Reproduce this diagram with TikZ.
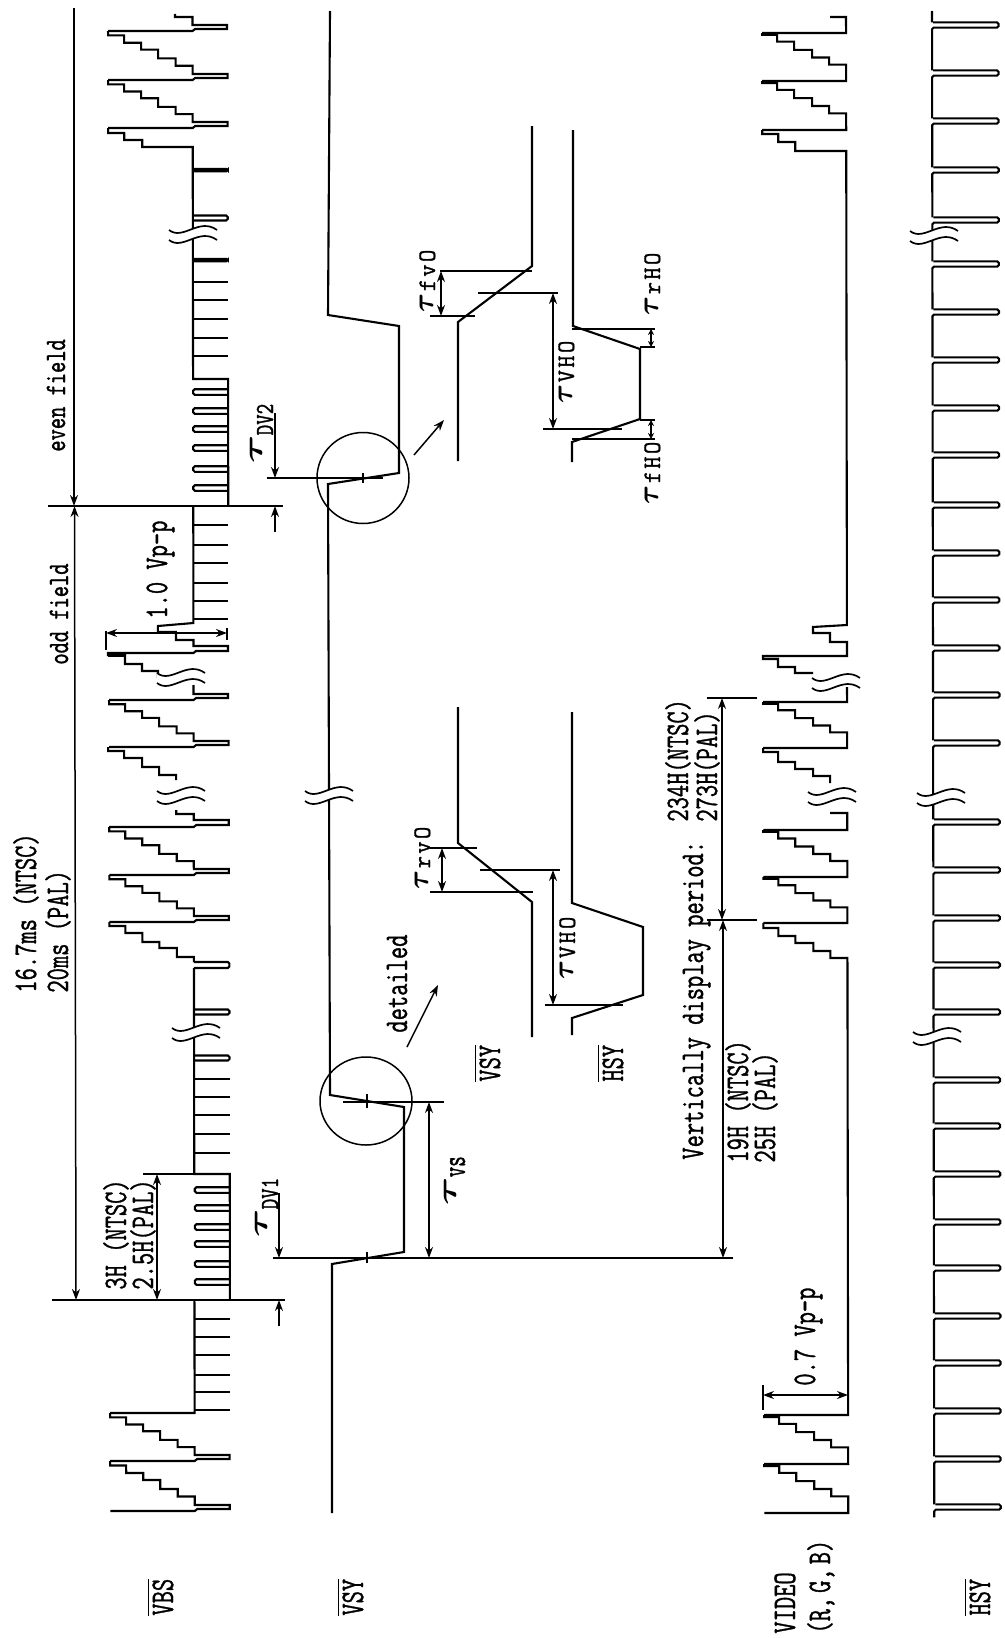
\documentclass[tikz,border=0pt]{standalone}
\usepackage{fontspec}
\newfontfamily\mnfont[FakeBold=1.3]{Latin Modern Mono}
\usetikzlibrary{arrows.meta}
\tikzset{
  sig/.style={line width=1.05pt,line join=miter,line cap=butt},
  dimln/.style={line width=0.75pt},
  dima/.style={line width=0.75pt,{Stealth[length=5.5pt,width=4pt]}-{Stealth[length=5.5pt,width=4pt]}},
  dimb/.style={line width=0.75pt,{Stealth[length=3pt,width=3pt]}-{Stealth[length=3pt,width=3pt]}},
  dimr/.style={line width=0.75pt,-{Stealth[length=5.5pt,width=4pt]}},
  lab/.style={rotate=90,anchor=base west,inner sep=0pt}
}
\newcommand\tx[1]{\scalebox{1}[1.38]{\mnfont\fontsize{11.9}{14}\selectfont #1}}
\newcommand\txs[1]{\scalebox{1}[1.38]{\mnfont\fontsize{10.7}{14}\selectfont #1}}
\newcommand\txo[1]{\scalebox{1}[1.38]{$\overline{\hbox{\mnfont\fontsize{11.9}{14}\selectfont #1}}$}}
\newcommand\taulab[3][-5.5pt]{\scalebox{1.8}[1.15]{\fontsize{12}{12}\selectfont\boldmath$\tau$}\raisebox{#1}{\scalebox{1}[#3]{\mnfont\fontsize{10}{12}\selectfont #2}}}
\newcommand\smt[3]{\scalebox{1}[1.05]{\fontsize{14.4}{14}\selectfont\boldmath$\tau$}\raisebox{-1pt}{\scalebox{1}[1.05]{\mnfont\fontsize{11.9}{14}\selectfont\kern1.2pt #1\kern1.2pt #2\kern1.2pt #3}}}
% VBS sawtooth period
\newcommand\sawb[2]{\draw[sig] (108,#1)--(192.5,#1)--(195,{#1-2})--(227.5,{#1-2})--(227.5,{#1-6})--(192.5,{#1-6})
  --(192.5,{#1-.29*#2})--(175.5,{#1-.29*#2})--(175.5,{#1-.44*#2})--(158,{#1-.44*#2})--(158,{#1-.62*#2})
  --(141,{#1-.62*#2})--(141,{#1-.76*#2})--(124,{#1-.76*#2})--(124,{#1-.91*#2})--(108,{#1-.91*#2})--(108,{#1-#2});}
% VIDEO sawtooth period
\newcommand\sawv[2]{\draw[sig] (762,#1)--(846,#1)--(846,{#1-.34*#2})--(829,{#1-.34*#2})--(829,{#1-.49*#2})
  --(812,{#1-.49*#2})--(812,{#1-.65*#2})--(794,{#1-.65*#2})--(794,{#1-.82*#2})--(777,{#1-.82*#2})
  --(777,{#1-.96*#2})--(762,{#1-.96*#2})--(762,{#1-#2});}
% narrow pulse between two levels
\newcommand\pulse[4]{\draw[sig,rounded corners=0.8pt] (#1,{#3+#4})--(#2,{#3+#4})--(#2,{#3-#4})--(#1,{#3-#4});}
% break mark
\newcommand\brk[2]{\fill[white] ({#1-24},{#2-5}) .. controls ({#1-10},{#2+6}) and ({#1+6},{#2-18}) .. ({#1+24},{#2-5})
   -- ({#1+24},{#2+5}) .. controls ({#1+6},{#2-8}) and ({#1-10},{#2+16}) .. ({#1-24},{#2+5}) -- cycle;
  \draw[sig,line width=0.85pt] ({#1-24},{#2-5}) .. controls ({#1-10},{#2+6}) and ({#1+6},{#2-18}) .. ({#1+24},{#2-5});
  \draw[sig,line width=0.85pt] ({#1-24},{#2+5}) .. controls ({#1-10},{#2+16}) and ({#1+6},{#2-8}) .. ({#1+24},{#2+5});}
\begin{document}
\begin{tikzpicture}[x=0.5pt,y=-0.5pt]
\useasboundingbox (0,0) rectangle (1005,1638);
\fill[white] (0,0) rectangle (1005,1638);
\begin{scope}[cm={1,0,-0.0015,1,(0,0)}]
% ---------- VBS ----------
\sawb{1511}{50}\sawb{1461}{48}
\draw[sig] (108,1413)--(192.5,1413)--(192.5,1300);
\foreach \t in {1410,1392,1375,1355,1337,1319} {\draw[sig] (192.5,\t)--(228,\t);}
\draw[sig] (228,1300)--(228,1174)--(192.5,1174)--(192.5,968);
\foreach \t in {1282,1264,1244,1227,1208,1190} {\pulse{228}{193}{\t}{2.8}}
\foreach \t in {1153,1134,1115,1097,1079} {\draw[sig] (192.5,\t)--(228,\t);}
\pulse{192.5}{228}{1058}{2.5}\pulse{192.5}{228}{1012}{2.5}\pulse{192.5}{228}{965}{3}
\draw[sig] (192.5,962)--(192.5,957)--(175.5,957)--(175.5,948)--(158,948)--(158,942)--(141,942)--(141,933)--(124,933)--(124,926)--(108,926)--(108,922);
\sawb{922}{47}\sawb{875}{48}
\draw[sig] (108,827)--(192.5,827)--(195,825)--(227.5,825)--(227.5,820)--(192.5,820)--(192.5,814)--(175,814)--(175,810);
\draw[sig] (175,780)--(175,775)--(158,775)--(158,767)--(141,767)--(141,758)--(123,758)--(123,751)--(107,751)--(107,747);
\sawb{747}{47}
\draw[sig] (108,700)--(192.5,700)--(195,698)--(227,698)--(227,694)--(192.5,694)--(192.5,685);
\draw[sig] (157,678)--(157,671)--(141,671)--(141,664)--(124,664)--(124,655)--(107,655)--(107,653)--(192.5,653)--(195,651)--(227,651)--(227,646)--(192.5,646)--(192.5,640)--(175,640)--(175,632)--(157,632)--(157,626)--(192.5,623)--(192.5,506);
\draw[line width=2.4pt] (107,654.5)--(124,654.5);
\foreach \t in {619,601,583,563,545,525} {\draw[sig] (192.5,\t)--(227.5,\t);}
\draw[sig] (227.5,506)--(227.5,379)--(192.5,379)--(192.5,147)--(142,147)--(142,140)--(124,140)--(124,133)--(108,133)--(108,128);
\foreach \t in {488,469,448,429,411,392} {\pulse{227.5}{192.5}{\t}{2.8}}
\foreach \t in {356,338,319,300,282} {\draw[sig] (192.5,\t)--(227.5,\t);}
\pulse{192.5}{227.5}{260}{1.2}\pulse{192.5}{227.5}{218}{2.5}\pulse{192.5}{227.5}{170}{1.2}
\sawb{128}{48}\sawb{80}{49}
\draw[sig] (108,31)--(192.5,31)--(195,29)--(227,29)--(227,25)--(192.5,25)--(192.5,17)--(175,17)--(175,14);
% ---------- VIDEO ----------
\sawv{1513}{49}\sawv{1464}{49}
\draw[sig] (762,1415)--(846,1415)--(846,958)--(829,958)--(829,951)--(812,951)--(812,943)--(794,943)--(794,936)--(777,936)--(777,928)--(762,928)--(762,923);
\sawv{923}{46}\sawv{877}{47}
\draw[sig] (762,830)--(846,830)--(846,813)--(829,813);
\draw[sig] (829,783)--(829,776)--(812,776)--(812,769)--(794,769)--(794,762)--(777,762)--(777,752)--(762,752)--(762,748);
\sawv{748}{46}
\draw[sig] (762,702)--(846,702)--(846,687);
\draw[sig] (812,673)--(794,673)--(794,667)--(777,667)--(777,659)--(762,659)--(762,656)--(846,656)--(846,642)--(829,642)--(829,633)--(812,633)--(812,627)--(846,625)--(846,151)--(795,151)--(795,142)--(778,142)--(778,134)--(762,134)--(762,130);
\sawv{130}{49}\sawv{81}{48}
\draw[sig] (762,33)--(846,33)--(846,17)--(830,17);
% ---------- HSY ----------
\foreach \t [remember=\t as \p (initially 1520)] in {1507,1459,1411,1363,1316,1268,1222,1174,1126,1080,1012,965,918,870,822,743,695,648,600,553,505,455,408,360,312,264,220,170,121,73,25}
  {\draw[sig,rounded corners=0.8pt] (932,{\p-2.6})--(932,{\t+2.6})--(998.5,{\t+2.6})--(998.5,{\t-2.6})--(933,{\t-2.6});}
\draw[sig] (932,22.4)--(932,11);
\end{scope}
% ---------- VSY ----------
\draw[sig] (332,1513)--(332,1264)--(404,1252)--(404,1107)--(330,1095)--(328,484)--(399,473)--(399,326)--(328,315)--(330,11);
% ---------- breaks ----------
\brk{193}{235}\brk{196}{1033}\brk{181}{678}\brk{181}{796}\brk{329}{796}
\brk{836}{683}\brk{832}{797}\brk{934}{236}\brk{941}{798}\brk{937}{1037}
% ---------- dimension lines ----------
\draw[dimln,line width=0.9pt] (48,506)--(283,506);
\draw[dimln,line width=0.9pt] (52,1300)--(285,1300);
\draw[dimr] (74,8)--(74,506);
\draw[dima] (74.5,506)--(76,1300);
\draw[dimln] (143,1174)--(228,1174);
\draw[dima] (157,1174)--(157,1300);
\draw[dimln] (106,631)--(106,650) (227,628)--(227,640);
\draw[dima] (106,633)--(227,633);
\draw[dimln] (273,1258)--(733,1258);
\draw[dimr] (279,1193)--(279,1258);
\draw[dimr] (279,1326)--(279,1300);
\draw[dimln] (367,1252)--(367,1263);
\draw[dimln] (343,1102)--(444,1102) (367,1094)--(367,1108);
\draw[dima] (429,1102)--(429,1258);
\draw[dimln] (366,1101) ellipse [x radius=46,y radius=44];
\draw[dimln] (363,478) ellipse [x radius=46,y radius=45.5];
\draw[dimln] (267,478)--(383,478) (363,473)--(363,483);
\draw[dimr] (275,413)--(275,478);
\draw[dimr] (275,532)--(275,506);
\draw[dimr] (407,1047)--(438,985);
\draw[dimr] (414,455)--(444,420);
\draw[dima] (723,1258)--(723,920);
\draw[dimln] (707,920)--(757,920) (707,698)--(757,698);
\draw[dima] (722,698)--(722,920);
\draw[dimln] (763,1385)--(763,1410);
\draw[dima] (763,1395)--(848,1395);
% ---------- insets ----------
\draw[sig] (458,707)--(458,843)--(532,902)--(532,1037);
\draw[sig] (572,712)--(572,903)--(643,927)--(643,995)--(572,1018)--(572,1035);
\draw[dimln] (430,848)--(477,848) (430,892)--(533,892) (480,870)--(560,870) (545,1005)--(623,1005);
\draw[dima] (442,848)--(442,892);
\draw[dima] (553,870)--(553,1005);
\draw[sig] (458,461)--(458,322)--(532,266)--(532,126);
\draw[sig] (573,130)--(573,326)--(640,349)--(640,419)--(572,442)--(572,462);
\draw[dimln] (430,316)--(475,316) (440,271)--(532,271) (478,293)--(558,293) (543,429)--(622,429);
\draw[dima] (441,271)--(441,316);
\draw[dima] (553,293)--(553,429);
\draw[dimln] (572,329)--(655,329) (640,347)--(655,347) (640,420)--(655,420) (572,439)--(655,439);
\draw[dimb] (651,329)--(651,347);
\draw[dimb] (651,420)--(651,439);
% ---------- labels ----------
\node[lab] (l16) at (36,993) {\tx{16.7ms (NTSC)}};
\node[lab] (l20) at (68,993) {\tx{20ms (PAL)}};
\node[lab] (leven) at (65,452) {\txs{even field}};
\node[lab] (lodd) at (68,665) {\txs{odd field}};
\node[lab] (l3h) at (126,1290) {\tx{3H (NTSC)}};
\node[lab] (l25h) at (153,1290) {\tx{2.5H(PAL)}};
\node[lab] (l10) at (167,619) {\tx{1.0 Vp-p}};
\node[lab] (ldet) at (407,1033) {\tx{detailed}};
\node[lab] (lvbs) at (173,1616) {\txo{VBS}};
\node[lab] (lvsy) at (363,1616) {\txo{VSY}};
\node[lab] (lvsy2) at (500,1082) {\txo{VSY}};
\node[lab] (lhsy2) at (623,1082) {\txo{HSY}};
\node[lab] (lhsy) at (990,1616) {\txo{HSY}};
\node[lab] (lvid) at (795,1634) {\tx{VIDEO}};
\node[lab] (lrgb) at (830,1634) {\tx{(R,\kern2pt G,\kern2pt B)}};
\node[lab] (lvert) at (703,1160) {\tx{Vertically display period:}};
\node[lab] (l234) at (688,822) {\tx{234H(NTSC)}};
\node[lab] (l273) at (717,822) {\tx{273H(PAL)}};
\node[lab] (l19) at (748,1163) {\tx{19H (NTSC)}};
\node[lab] (l25) at (775,1163) {\tx{25H (PAL)}};
\node[lab] (l07) at (815,1386) {\tx{0.7 Vp-p}};
\node[lab] (tpv1) at (267,1238) {\taulab{DV1}{1.3}};
\node[lab] (tvs) at (456,1206) {\taulab[-4.5pt]{vs}{1.7}};
\node[lab] (tpv2) at (262,464) {\taulab{DV2}{1.3}};
\node[lab] (trvo) at (428,890) {\smt{r}{v}{O}};
\node[lab] (tvho1) at (573,980) {\smt{V}{H}{O}};
\node[lab] (tfvo) at (433,313) {\smt{f}{v}{O}};
\node[lab] (tvho2) at (572,404) {\smt{V}{H}{O}};
\node[lab] (trho) at (658,316) {\smt{r}{H}{O}};
\node[lab] (tfho) at (658,505) {\smt{f}{H}{O}};
\end{tikzpicture}
\end{document}
